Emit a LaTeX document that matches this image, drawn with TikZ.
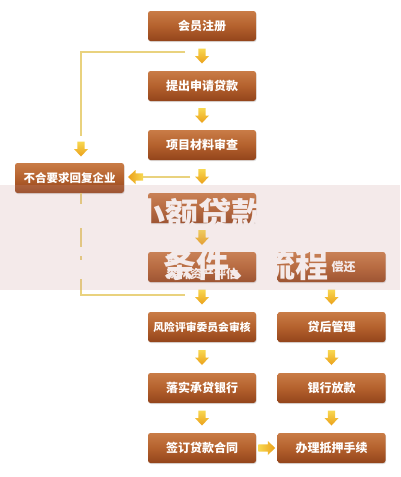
\documentclass[tikz,border=0pt]{standalone}
\usepackage{fontspec}
\newfontfamily\cjk{Noto Sans CJK SC}
\usetikzlibrary{calc,shadows}
\definecolor{boxtop}{HTML}{C97C47}
\definecolor{boxmid}{HTML}{B4612D}
\definecolor{boxbot}{HTML}{93441B}
\definecolor{arrtop}{HTML}{F8D850}
\definecolor{arrbot}{HTML}{EBA01A}
\definecolor{ylinecol}{HTML}{E9D27E}
\definecolor{bandcol}{HTML}{C89696}
\tikzset{
  box/.style={rounded corners=2.5pt, top color=boxtop, bottom color=boxbot, middle color=boxmid,
    minimum width=108pt, minimum height=30pt, inner sep=0pt, text=white,
    font=\cjk\bfseries\fontsize{12}{14}\selectfont,
    drop shadow={opacity=0.25, shadow xshift=0.6pt, shadow yshift=-1pt}},
  yline/.style={draw=ylinecol, line width=1.5pt},
  titletext/.style={text=white, inner sep=0pt, font=\cjk\bfseries\fontsize{33}{33}\selectfont},
  darr/.pic={\shade[top color=arrtop, bottom color=arrbot]
     (-3.6,-7.5) -- (3.6,-7.5) -- (3.6,0) -- (7,0) -- (0,7.5) -- (-7,0) -- (-3.6,0) -- cycle;},
  larr/.pic={\shade[left color=arrbot, right color=arrtop]
     (7.5,-3.6) -- (7.5,3.6) -- (0,3.6) -- (0,7) -- (-7.5,0) -- (0,-7) -- (0,-3.6) -- cycle;},
  rarr/.pic={\shade[left color=arrtop, right color=arrbot]
     (-8.5,-3.6) -- (-8.5,3.6) -- (1,3.6) -- (1,7) -- (8.5,0) -- (1,-7) -- (1,-3.6) -- cycle;}
}
\begin{document}
\begin{tikzpicture}[x=1pt,y=-1pt]
\useasboundingbox[fill=white] (0,0) rectangle (400,477);
% centre column
\node[box] (c1) at (202,26) {会员注册};
\node[box] (c2) at (202,86) {提出申请贷款};
\node[box] (c3) at (202,145) {项目材料审查};
\node[box] (c4) at (202,208) {};
\node[box, align=center] (c5) at (202,267) {资\phantom{信调查审核}\\森林资产评估};
\node[box, font=\cjk\bfseries\fontsize{10.8}{12}\selectfont] (c6) at (202,327) {风险评审委员会审核};
\node[box] (c7) at (202,388) {落实承贷银行};
\node[box] (c8) at (202,448) {签订贷款合同};
% right column
\node[box] (r5) at (331.5,267) {\phantom{按期}偿还};
\node[box] (r6) at (331.5,327) {贷后管理};
\node[box] (r7) at (331.5,388) {银行放款};
\node[box] (r8) at (331.5,448) {办理抵押手续};
% left box
\node[box, minimum width=109pt, font=\cjk\bfseries\fontsize{11.5}{12}\selectfont] (L) at (69.5,178) {不合要求回复企业};
% block arrows
\foreach \a/\b in {c1/c2,c2/c3,c3/c4,c4/c5,c5/c6,c6/c7,c7/c8,r5/r6,r6/r7,r7/r8}
  \pic at ($(\a.south)!0.5!(\b.north)$) {darr};
\pic at ($(c8.east)!0.5!(r8.west)$) {rarr};
% yellow connectors
\coordinate (j1) at (185,52);
\coordinate (t1) at (81,136);
\draw[yline] (j1) -- (j1 -| t1) -- (t1);
\pic at (81,149) {darr};
\coordinate (j2) at (190,177);
\coordinate (t2) at (143,177);
\draw[yline] (j2) -- (t2);
\pic at (135.5,177) {larr};
\coordinate (j3) at (185,295);
\draw[yline] (L.south -| t1) -- (81,204) (81,228) -- (81,247) (81,256) -- (81,259.5) (81,279) -- (81,295) -- (j3);
% title, then translucent band over it
\node[titletext, anchor=base west] (T1) at (132,226) {小额贷款};
\node[titletext, anchor=base west] (T2) at (163,277) {条件、流程};
\fill[bandcol, opacity=0.2] (0,185) rectangle (400,290);
\end{tikzpicture}
\end{document}
